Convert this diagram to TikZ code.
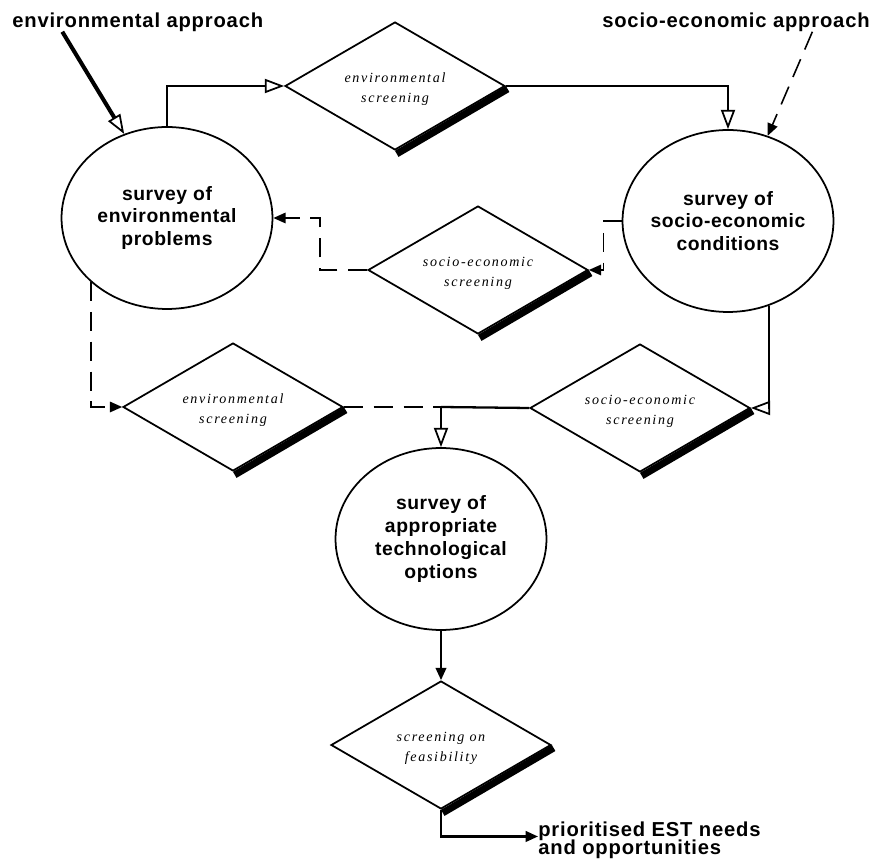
\documentclass[tikz,border=0pt]{standalone}
\usepackage{fontspec}
\usepackage{tikz}
\usetikzlibrary{arrows.meta,shapes.geometric,calc}
\newfontfamily\headfont[LetterSpace=4]{Liberation Sans}
\newfontfamily\surveyfont[LetterSpace=3]{Liberation Sans}
\newfontfamily\screenfont[LetterSpace=12]{Liberation Serif}

\begin{document}
\begin{tikzpicture}[
  x=0.02cm, y=-0.02cm,
  survey/.style={
    ellipse,
    draw=black,
    line width=1pt,
    align=center,
    inner sep=-10pt,
    minimum width=4.22cm,
    minimum height=3.64cm,
    font=\surveyfont\bfseries\fontsize{11}{13}\selectfont
  },
  screen/.style={
    diamond,
    draw=black,
    line width=1pt,
    align=center,
    inner sep=0pt,
    aspect=1.72,
    text height=20pt,
    minimum width=4.4cm,
    minimum height=2.56cm,
    font=\screenfont\itshape\fontsize{8}{11}\selectfont
  },
  heading/.style={
    inner sep=0pt,
    align=left,
    font=\headfont\bfseries\fontsize{11.5}{11}\selectfont
  },
  edgeband/.style={line width=4pt},
  line/.style={line width=1.3pt},
  dashline/.style={line width=0.9pt, dash pattern=on 11pt off 6pt},
  flow/.style={-{Triangle[open, line width=1pt, length=11pt, width=8pt]}, line width=1.3pt},
  feed/.style={-{Triangle[length=7pt, width=6pt]}, line width=1.3pt},
  dashfeed/.style={-{Triangle[length=7pt, width=6pt]}, line width=0.9pt, dash pattern=on 11pt off 6pt}
]
\useasboundingbox (0,0) rectangle (873,861);

% surveys
\node[survey] (envprob) at (167,218) {survey of\\environmental\\problems};
\node[survey] (socprob) at (728,221) {survey of\\socio-economic\\conditions};
\node[survey] (techopt) at (441,539) {survey of\\appropriate\\technological\\options};

% screenings
\node[screen] (envtop) at (395,86) {environmental\\screening};
\node[screen] (socmid) at (478,270) {socio-economic\\screening};
\node[screen] (envlow) at (233,407) {environmental\\screening};
\node[screen] (soclow) at (640,408) {socio-economic\\screening};
\node[screen] (feas) at (441,745) {screening on\\feasibility};

\draw[edgeband] ([shift={(1pt,-1.7pt)}]envtop.south) -- ([shift={(1pt,-1.7pt)}]envtop.east);
\draw[edgeband] ([shift={(1pt,-1.7pt)}]socmid.south) -- ([shift={(1pt,-1.7pt)}]socmid.east);
\draw[edgeband] ([shift={(1pt,-1.7pt)}]envlow.south) -- ([shift={(1pt,-1.7pt)}]envlow.east);
\draw[edgeband] ([shift={(1pt,-1.7pt)}]soclow.south) -- ([shift={(1pt,-1.7pt)}]soclow.east);
\draw[edgeband] ([shift={(1pt,-1.7pt)}]feas.south) -- ([shift={(1pt,-1.7pt)}]feas.east);

% approaches and result
\node[heading, anchor=west] (envapp) at (12,22) {environmental approach};
\node[heading, anchor=east] (socapp) at (870,22) {socio-economic approach};
\node[heading, anchor=west] (result) at (538,840) {prioritised EST needs\\[-0.8pt]and opportunities};

\draw[flow, line width=2.3pt] ($(envapp.south west)!0.2!(envapp.south east)$) -- (envprob.117);
\draw[dashfeed] ($(socapp.south west)!0.785!(socapp.south east)$) -- (socprob.65);

\draw[flow] (envprob.north) |- (envtop.west);
\draw[flow] (envtop.east) -| (socprob.north);
\draw[dashfeed] (socprob.west) -- ++(-18,0) |- (socmid.east);
\draw[dashfeed] (socmid.west) -- ++(-47,0) |- (envprob.east);
\draw[dashfeed] (envprob.220) |- (envlow.west);
\draw[flow] (socprob.296) |- (soclow.east);

\coordinate (merge) at (techopt.north |- envlow.east);
\draw[dashline] (envlow.east) -- (merge);
\draw[line] (soclow.west) -- (merge);
\draw[flow] (merge) -- (techopt.north);
\draw[feed] (techopt.south) -- (feas.north);
\draw[feed] (feas.south) |- ([yshift=2pt]result.west);
\end{tikzpicture}
\end{document}
